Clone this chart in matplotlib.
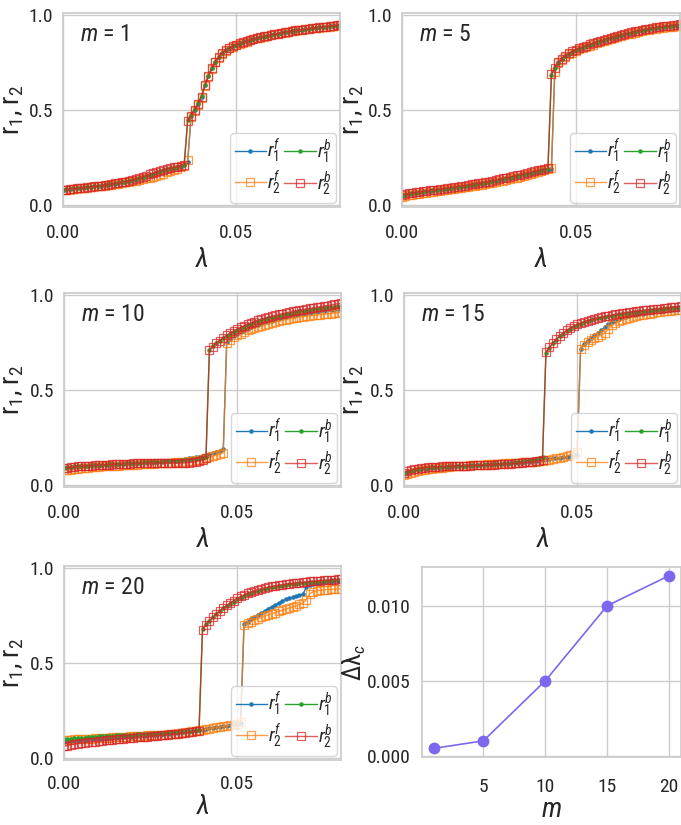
import numpy as np
import matplotlib
matplotlib.use("Agg")
import matplotlib.pyplot as plt
from matplotlib import font_manager

# ---------------- data ----------------
lam = np.round(np.arange(81) * 0.001, 3)

m1_r1f = [0.080,0.082,0.084,0.086,0.088,0.090,0.092,0.094,0.096,0.098,
          0.100,0.102,0.104,0.107,0.110,0.113,0.116,0.119,0.122,0.125,
          0.128,0.132,0.136,0.141,0.146,0.151,0.157,0.163,0.169,0.175,
          0.181,0.186,0.191,0.196,0.202,0.210,0.225,0.470,0.500,0.530,
          0.570,0.630,0.680,0.720,0.755,0.780,0.800,0.815,0.826,0.835,
          0.843,0.850,0.856,0.862,0.868,0.873,0.878,0.883,0.887,0.891,
          0.895,0.899,0.902,0.906,0.909,0.912,0.915,0.918,0.921,0.923,
          0.926,0.928,0.931,0.933,0.935,0.937,0.939,0.941,0.943,0.945,0.947]
m1_r2f = [0.078,0.080,0.082,0.084,0.086,0.088,0.090,0.092,0.094,0.096,
          0.098,0.100,0.102,0.104,0.107,0.110,0.113,0.116,0.119,0.122,
          0.125,0.128,0.132,0.136,0.140,0.145,0.150,0.155,0.160,0.166,
          0.172,0.178,0.184,0.190,0.198,0.208,0.235,0.465,0.495,0.525,
          0.565,0.625,0.675,0.715,0.750,0.776,0.797,0.812,0.824,0.833,
          0.841,0.848,0.854,0.860,0.866,0.871,0.876,0.881,0.885,0.889,
          0.893,0.897,0.900,0.904,0.907,0.910,0.913,0.916,0.919,0.921,
          0.924,0.926,0.929,0.931,0.933,0.935,0.937,0.939,0.941,0.943,0.945]
m1_r1b = [0.082,0.084,0.086,0.088,0.090,0.091,0.093,0.095,0.097,0.099,
          0.101,0.103,0.106,0.109,0.112,0.115,0.118,0.121,0.124,0.128,
          0.132,0.136,0.141,0.147,0.153,0.160,0.166,0.172,0.178,0.184,
          0.189,0.193,0.197,0.201,0.205,0.210,0.450,0.475,0.505,0.535,
          0.575,0.630,0.680,0.720,0.752,0.778,0.798,0.813,0.825,0.834,
          0.842,0.849,0.855,0.861,0.867,0.872,0.877,0.882,0.886,0.890,
          0.894,0.898,0.901,0.905,0.908,0.911,0.914,0.917,0.920,0.922,
          0.925,0.927,0.930,0.932,0.934,0.936,0.938,0.940,0.942,0.944,0.946]
m1_r2b = [0.080,0.082,0.084,0.086,0.088,0.090,0.092,0.094,0.096,0.098,
          0.100,0.102,0.105,0.108,0.111,0.114,0.117,0.120,0.124,0.127,
          0.131,0.136,0.142,0.148,0.155,0.162,0.168,0.174,0.180,0.185,
          0.190,0.194,0.198,0.202,0.206,0.212,0.440,0.470,0.500,0.530,
          0.570,0.630,0.680,0.720,0.755,0.780,0.800,0.815,0.826,0.835,
          0.843,0.850,0.856,0.862,0.868,0.873,0.878,0.883,0.887,0.891,
          0.895,0.899,0.902,0.906,0.909,0.912,0.915,0.918,0.921,0.923,
          0.926,0.928,0.931,0.933,0.935,0.937,0.939,0.941,0.943,0.945,0.947]

m5_r1f = [0.050,0.053,0.056,0.059,0.062,0.065,0.068,0.070,0.073,0.075,
          0.078,0.080,0.083,0.085,0.088,0.090,0.093,0.095,0.098,0.101,
          0.104,0.107,0.110,0.113,0.116,0.119,0.122,0.126,0.130,0.134,
          0.138,0.142,0.146,0.150,0.154,0.158,0.162,0.166,0.170,0.174,
          0.178,0.182,0.186,0.190,0.725,0.750,0.768,0.782,0.794,0.804,
          0.813,0.821,0.828,0.835,0.841,0.847,0.853,0.859,0.865,0.871,
          0.876,0.881,0.886,0.891,0.896,0.901,0.905,0.909,0.913,0.917,
          0.921,0.924,0.927,0.930,0.933,0.936,0.938,0.940,0.942,0.944,0.946]
m5_r2f = [0.045,0.048,0.051,0.054,0.057,0.060,0.063,0.065,0.068,0.070,
          0.073,0.075,0.078,0.080,0.083,0.085,0.088,0.090,0.093,0.096,
          0.099,0.102,0.105,0.108,0.111,0.114,0.117,0.121,0.125,0.129,
          0.133,0.137,0.141,0.145,0.149,0.153,0.158,0.163,0.168,0.173,
          0.178,0.183,0.188,0.193,0.700,0.745,0.765,0.780,0.792,0.802,
          0.811,0.819,0.826,0.832,0.838,0.844,0.850,0.856,0.862,0.868,
          0.873,0.878,0.883,0.888,0.893,0.898,0.902,0.906,0.910,0.914,
          0.918,0.921,0.924,0.927,0.930,0.933,0.935,0.937,0.939,0.941,0.943]
m5_r1b = [0.052,0.055,0.058,0.061,0.064,0.067,0.070,0.072,0.075,0.077,
          0.080,0.082,0.085,0.087,0.090,0.092,0.095,0.097,0.100,0.103,
          0.106,0.109,0.112,0.115,0.118,0.121,0.125,0.129,0.133,0.137,
          0.141,0.145,0.149,0.153,0.157,0.161,0.166,0.170,0.174,0.178,
          0.182,0.186,0.190,0.685,0.722,0.748,0.768,0.783,0.796,0.806,
          0.815,0.823,0.830,0.837,0.843,0.849,0.855,0.861,0.867,0.873,
          0.878,0.883,0.888,0.893,0.898,0.903,0.907,0.911,0.915,0.919,
          0.923,0.926,0.929,0.932,0.935,0.938,0.940,0.942,0.944,0.946,0.948]
m5_r2b = [0.055,0.058,0.061,0.064,0.067,0.070,0.072,0.075,0.077,0.080,
          0.082,0.085,0.087,0.090,0.092,0.095,0.097,0.100,0.103,0.106,
          0.109,0.112,0.115,0.118,0.121,0.124,0.128,0.132,0.136,0.140,
          0.144,0.148,0.152,0.156,0.160,0.165,0.170,0.174,0.178,0.182,
          0.186,0.190,0.195,0.690,0.720,0.750,0.770,0.785,0.798,0.808,
          0.817,0.825,0.832,0.839,0.845,0.851,0.857,0.863,0.869,0.875,
          0.880,0.885,0.890,0.895,0.900,0.905,0.909,0.913,0.917,0.921,
          0.925,0.928,0.931,0.934,0.937,0.940,0.942,0.944,0.946,0.948,0.950]

m10_r1f = [0.088,0.090,0.092,0.094,0.096,0.098,0.099,0.100,0.101,0.102,
           0.103,0.104,0.105,0.106,0.107,0.108,0.109,0.110,0.111,0.112,
           0.113,0.114,0.115,0.116,0.117,0.118,0.119,0.120,0.121,0.123,
           0.125,0.127,0.129,0.131,0.134,0.137,0.140,0.143,0.146,0.150,
           0.154,0.158,0.163,0.168,0.174,0.180,0.188,0.755,0.770,0.782,
           0.793,0.803,0.812,0.821,0.829,0.836,0.843,0.849,0.855,0.860,
           0.865,0.870,0.875,0.879,0.883,0.887,0.891,0.895,0.898,0.901,
           0.904,0.907,0.910,0.912,0.914,0.916,0.918,0.920,0.922,0.924,0.926]
m10_r2f = [0.078,0.080,0.082,0.084,0.086,0.088,0.090,0.092,0.094,0.095,
           0.097,0.098,0.099,0.100,0.101,0.102,0.103,0.104,0.105,0.106,
           0.107,0.108,0.109,0.110,0.111,0.112,0.113,0.114,0.115,0.116,
           0.117,0.118,0.119,0.120,0.122,0.124,0.126,0.128,0.131,0.134,
           0.138,0.142,0.147,0.152,0.158,0.164,0.170,0.745,0.765,0.778,
           0.788,0.797,0.805,0.813,0.820,0.827,0.833,0.839,0.844,0.849,
           0.854,0.858,0.862,0.866,0.870,0.874,0.877,0.880,0.883,0.886,
           0.888,0.890,0.892,0.894,0.896,0.898,0.900,0.902,0.904,0.906,0.908]
m10_r1b = [0.092,0.094,0.096,0.098,0.100,0.101,0.102,0.103,0.104,0.105,
           0.106,0.107,0.108,0.109,0.110,0.111,0.112,0.113,0.114,0.115,
           0.116,0.117,0.118,0.119,0.120,0.121,0.122,0.123,0.124,0.125,
           0.126,0.127,0.128,0.129,0.130,0.131,0.133,0.135,0.138,0.141,
           0.145,0.150,0.712,0.730,0.746,0.760,0.774,0.786,0.797,0.807,
           0.816,0.825,0.833,0.841,0.848,0.855,0.861,0.867,0.872,0.877,
           0.882,0.886,0.890,0.894,0.898,0.902,0.906,0.910,0.913,0.916,
           0.919,0.922,0.925,0.928,0.931,0.933,0.935,0.937,0.939,0.941,0.943]
m10_r2b = [0.090,0.092,0.094,0.096,0.098,0.100,0.101,0.102,0.103,0.104,
           0.105,0.106,0.107,0.108,0.109,0.110,0.111,0.112,0.112,0.113,
           0.114,0.114,0.115,0.115,0.115,0.116,0.116,0.116,0.116,0.116,
           0.116,0.116,0.116,0.116,0.116,0.117,0.118,0.120,0.123,0.127,
           0.132,0.140,0.710,0.728,0.745,0.760,0.775,0.788,0.800,0.810,
           0.820,0.829,0.838,0.846,0.853,0.860,0.866,0.872,0.878,0.883,
           0.888,0.893,0.897,0.901,0.905,0.909,0.913,0.917,0.920,0.923,
           0.926,0.929,0.932,0.935,0.938,0.941,0.944,0.947,0.950,0.953,0.956]

m15_r1f = [0.060,0.066,0.072,0.077,0.081,0.084,0.087,0.089,0.091,0.092,
           0.093,0.094,0.095,0.096,0.097,0.098,0.099,0.100,0.101,0.102,
           0.103,0.104,0.105,0.106,0.107,0.108,0.109,0.110,0.111,0.112,
           0.113,0.114,0.115,0.116,0.118,0.120,0.122,0.124,0.126,0.128,
           0.130,0.135,0.138,0.140,0.142,0.144,0.146,0.149,0.152,0.156,
           0.160,0.716,0.740,0.758,0.773,0.787,0.800,0.814,0.829,0.845,
           0.857,0.865,0.872,0.878,0.883,0.888,0.892,0.896,0.899,0.902,
           0.905,0.908,0.911,0.913,0.915,0.917,0.919,0.921,0.923,0.925,0.927]
m15_r2f = [0.055,0.060,0.065,0.070,0.074,0.078,0.081,0.084,0.086,0.088,
           0.090,0.092,0.094,0.096,0.098,0.100,0.101,0.102,0.103,0.104,
           0.105,0.106,0.107,0.108,0.109,0.110,0.111,0.112,0.113,0.114,
           0.115,0.116,0.117,0.118,0.119,0.120,0.121,0.122,0.124,0.126,
           0.128,0.131,0.134,0.137,0.140,0.143,0.147,0.152,0.158,0.165,
           0.175,0.715,0.735,0.750,0.762,0.772,0.780,0.788,0.800,0.820,
           0.840,0.852,0.861,0.868,0.874,0.879,0.884,0.888,0.892,0.896,
           0.899,0.902,0.905,0.908,0.911,0.913,0.915,0.917,0.919,0.921,0.923]
m15_r1b = [0.062,0.068,0.074,0.079,0.083,0.086,0.089,0.091,0.093,0.094,
           0.095,0.096,0.097,0.098,0.099,0.100,0.101,0.102,0.103,0.104,
           0.105,0.106,0.107,0.108,0.109,0.110,0.111,0.112,0.113,0.114,
           0.116,0.118,0.120,0.122,0.124,0.127,0.130,0.133,0.137,0.141,
           0.146,0.695,0.722,0.745,0.765,0.782,0.797,0.811,0.823,0.833,
           0.842,0.849,0.855,0.861,0.866,0.871,0.876,0.880,0.884,0.888,
           0.891,0.894,0.897,0.900,0.903,0.906,0.909,0.911,0.913,0.915,
           0.917,0.919,0.921,0.923,0.925,0.927,0.929,0.931,0.933,0.935,0.937]
m15_r2b = [0.066,0.072,0.078,0.083,0.087,0.090,0.092,0.094,0.095,0.096,
           0.097,0.098,0.099,0.100,0.101,0.101,0.102,0.102,0.103,0.103,
           0.104,0.104,0.105,0.105,0.106,0.107,0.108,0.109,0.110,0.111,
           0.112,0.113,0.114,0.115,0.117,0.119,0.121,0.123,0.125,0.127,
           0.130,0.700,0.725,0.748,0.768,0.785,0.800,0.814,0.826,0.836,
           0.845,0.852,0.858,0.864,0.869,0.874,0.879,0.883,0.887,0.891,
           0.894,0.897,0.900,0.903,0.906,0.909,0.912,0.914,0.916,0.918,
           0.920,0.922,0.924,0.926,0.928,0.930,0.932,0.934,0.936,0.938,0.940]

m20_r1f = [0.080,0.083,0.086,0.088,0.090,0.092,0.094,0.096,0.098,0.099,
           0.100,0.101,0.102,0.104,0.105,0.106,0.108,0.109,0.110,0.112,
           0.113,0.114,0.116,0.117,0.118,0.120,0.121,0.123,0.124,0.126,
           0.127,0.129,0.131,0.133,0.135,0.137,0.139,0.141,0.144,0.147,
           0.150,0.153,0.156,0.159,0.162,0.165,0.168,0.171,0.174,0.177,
           0.180,0.184,0.705,0.718,0.730,0.742,0.753,0.764,0.775,0.786,
           0.796,0.806,0.816,0.826,0.834,0.840,0.845,0.850,0.855,0.862,
           0.898,0.908,0.914,0.918,0.921,0.924,0.926,0.928,0.930,0.932,0.933]
m20_r2f = [0.095,0.096,0.097,0.098,0.099,0.100,0.101,0.102,0.103,0.104,
           0.105,0.106,0.107,0.108,0.109,0.110,0.111,0.112,0.113,0.114,
           0.115,0.116,0.117,0.118,0.119,0.120,0.121,0.122,0.123,0.124,
           0.125,0.127,0.129,0.131,0.133,0.135,0.137,0.140,0.143,0.146,
           0.149,0.152,0.155,0.158,0.161,0.164,0.167,0.170,0.173,0.176,
           0.180,0.188,0.700,0.710,0.718,0.726,0.733,0.740,0.747,0.753,
           0.759,0.765,0.771,0.777,0.783,0.789,0.795,0.801,0.808,0.815,
           0.833,0.865,0.875,0.880,0.882,0.884,0.886,0.887,0.888,0.889,0.890]
m20_r1b = [0.098,0.100,0.102,0.104,0.106,0.107,0.108,0.110,0.111,0.113,
           0.114,0.115,0.116,0.117,0.118,0.119,0.120,0.121,0.122,0.123,
           0.124,0.125,0.126,0.127,0.128,0.129,0.130,0.131,0.132,0.133,
           0.134,0.135,0.136,0.137,0.139,0.141,0.143,0.145,0.147,0.150,
           0.680,0.703,0.722,0.741,0.758,0.773,0.787,0.800,0.812,0.823,
           0.834,0.844,0.853,0.861,0.868,0.874,0.880,0.885,0.890,0.894,
           0.898,0.901,0.904,0.907,0.910,0.913,0.915,0.917,0.919,0.921,
           0.923,0.925,0.927,0.928,0.930,0.931,0.933,0.934,0.936,0.937,0.938]
m20_r2b = [0.062,0.066,0.070,0.073,0.076,0.079,0.081,0.083,0.085,0.087,
           0.089,0.091,0.093,0.095,0.097,0.099,0.100,0.102,0.104,0.105,
           0.107,0.109,0.110,0.112,0.113,0.115,0.117,0.118,0.120,0.122,
           0.124,0.126,0.127,0.129,0.131,0.133,0.135,0.138,0.141,0.145,
           0.676,0.700,0.720,0.740,0.758,0.774,0.789,0.803,0.816,0.828,
           0.840,0.850,0.859,0.867,0.874,0.880,0.886,0.891,0.895,0.899,
           0.903,0.906,0.909,0.912,0.915,0.917,0.919,0.921,0.923,0.925,
           0.927,0.929,0.930,0.932,0.933,0.935,0.936,0.938,0.939,0.941,0.942]

m_values = [1, 5, 10, 15, 20]
delta_lambda_c = [0.0005, 0.001, 0.005, 0.010, 0.012]

panels = [
    (1,  m1_r1f,  m1_r2f,  m1_r1b,  m1_r2b),
    (5,  m5_r1f,  m5_r2f,  m5_r1b,  m5_r2b),
    (10, m10_r1f, m10_r2f, m10_r1b, m10_r2b),
    (15, m15_r1f, m15_r2f, m15_r1b, m15_r2b),
    (20, m20_r1f, m20_r2f, m20_r1b, m20_r2b),
]

# ---------------- style ----------------
names = {f.name for f in font_manager.fontManager.ttflist}
prefs = ["Roboto Condensed", "Liberation Sans Narrow", "Arial Narrow",
         "Fira Sans Condensed", "Liberation Sans"]
FAM = next(p for p in prefs if p in names)
plt.rcParams.update({
    "font.family": [FAM, "DejaVu Sans"],
    "mathtext.fontset": "custom",
    "mathtext.rm": FAM,
    "mathtext.it": FAM + ":italic",
    "mathtext.bf": FAM + ":bold",
    "mathtext.fallback": "stixsans",
    "axes.edgecolor": "0.8",
    "axes.linewidth": 1.25,
    "grid.color": "0.8",
    "grid.linewidth": 1.0,
    "text.color": "0.15",
    "axes.labelcolor": "0.15",
    "xtick.color": "0.15",
    "ytick.color": "0.15",
    "xtick.major.size": 0,
    "ytick.major.size": 0,
})

W, H = 681, 825
fig = plt.figure(figsize=(W / 100, H / 100), dpi=100)

def pos(l, t, r, b):
    return [l / W, 1 - b / H, (r - l) / W, (b - t) / H]

boxes = [pos(63, 13, 340, 207), pos(402, 13, 680, 207),
         pos(64, 293, 341, 487), pos(404, 293, 681, 487),
         pos(64, 566, 341, 760)]
ylab_x = [26, 366, 26, 366, 26]   # right edge of y label, pixels

C_B, C_O, C_G, C_R = "#1f77b4", "#ff7f0e", "#2ca02c", "#d62728"

for i, (box, lx, (m, r1f, r2f, r1b, r2b)) in enumerate(zip(boxes, ylab_x, panels)):
    ax = fig.add_axes(box)
    ax.plot(lam, r1f, color=C_B, marker=".", ms=4.5, lw=1.0, label=r"$r_1^f$")
    ax.plot(lam, r2f, color=C_O, marker="s", ms=6, mfc="none", mew=0.9,
            lw=1.0, alpha=0.75, label=r"$r_2^f$")
    ax.plot(lam, r1b, color=C_G, marker=".", ms=4.5, lw=1.0, label=r"$r_1^b$")
    ax.plot(lam, r2b, color=C_R, marker="s", ms=6, mfc="none", mew=0.9,
            lw=1.0, alpha=0.75, label=r"$r_2^b$")
    ax.set_xlim(0, 0.08)
    ax.set_ylim(-0.01, 1.01)
    ax.set_xticks([0.0, 0.05])
    ax.set_xticklabels(["0.00", "0.05"])
    ax.set_yticks([0.0, 0.5, 1.0])
    ax.set_yticklabels(["0.0", "0.5", "1.0"])
    ax.tick_params(axis="x", labelsize=14, pad=12 if i < 4 else 11)
    ax.tick_params(axis="y", labelsize=14, pad=7)
    ax.grid(True)
    ax.set_axisbelow(True)
    ax.set_xlabel(r"$\lambda$", fontsize=20, labelpad=3 if i < 4 else 0)
    ax.set_ylabel(r"r$_1$, r$_2$", fontsize=20)
    x0 = box[0] * W
    ax.yaxis.set_label_coords((lx - x0) / (box[2] * W), 0.5)
    ax.text(0.06, 0.89, rf"$m$ = {m}", transform=ax.transAxes,
            fontsize=17, va="center", ha="left")
    ax.legend(loc="lower right", ncol=2, fontsize=14, handlelength=1.6,
              handletextpad=0.05, columnspacing=0.2, borderpad=0.25,
              labelspacing=0.2, borderaxespad=0.2, framealpha=0.8,
              edgecolor="0.8", fancybox=True)

bbr = pos(422, 567, 681, 757)
ax = fig.add_axes(bbr)
ax.plot(m_values, delta_lambda_c, color="#7b68ee", marker="o", ms=7.5, lw=1.2)
ax.set_xticks([5, 10, 15, 20])
ax.set_yticks([0.0, 0.005, 0.010])
ax.set_yticklabels(["0.000", "0.005", "0.010"])
ax.tick_params(axis="x", labelsize=14, pad=15)
ax.tick_params(axis="y", labelsize=14, pad=8)
ax.grid(True)
ax.set_axisbelow(True)
ax.set_xlabel(r"$m$", fontsize=20, labelpad=0)
ax.set_ylabel(r"Δλ$_c$", fontsize=18)
ax.yaxis.set_label_coords((368 - 422) / (bbr[2] * W), 0.5)

fig.savefig("out.png", dpi=100)
